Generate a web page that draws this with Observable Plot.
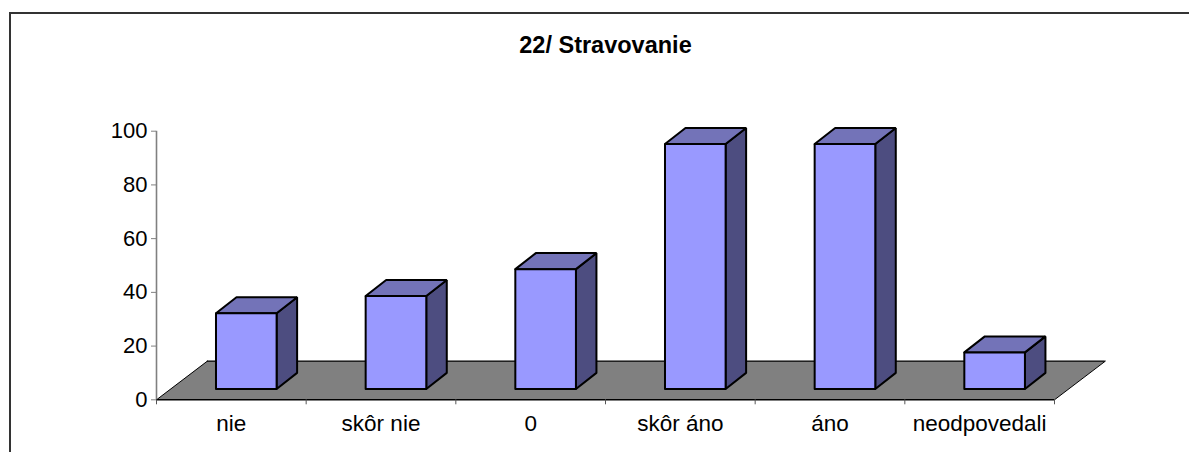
<!DOCTYPE html>
<html>
<head>
<meta charset="utf-8">
<script src="https://cdn.jsdelivr.net/npm/d3@7"></script>
<script src="https://cdn.jsdelivr.net/npm/@observablehq/plot@0.6"></script>
<style>
html,body{margin:0;padding:0;background:#fff;}
#wrap{position:relative;width:1189px;height:452px;overflow:hidden;font-family:"Liberation Sans",Arial,sans-serif;}
#frame{position:absolute;left:9px;top:12px;width:1300px;height:600px;border:2px solid #333;box-sizing:border-box;}
#title{position:absolute;left:0;width:1211px;top:32px;text-align:center;font-weight:bold;font-size:23.5px;line-height:26px;color:#000;}
#chart{position:absolute;left:0;top:0;}
</style>
</head>
<body>
<div id="wrap"><div id="frame"></div><div id="chart"></div><div id="title">22/ Stravovanie</div></div>
<script>
const categories = ["nie","skôr nie","0","skôr áno","áno","neodpovedali"];
const values = [28.2,34.6,44.6,91.2,91.2,13.6];
const yTicks = [0,20,40,60,80,100];

// 3-D projection, in scale units
const floorDepthX = 0.34, floorDepthY = 14.4;
const barDepthX = 0.137, barDepthY = 5.96;
const barBaseY = 4.05, barCenter = 0.6, barWidth = 0.405;

const n = categories.length;
const poly = (id, kind, pts) => pts.map(([x,y]) => ({id, kind, x, y}));

const floor = poly("floor","floor",[[0,0],[n,0],[n+floorDepthX,floorDepthY],[floorDepthX,floorDepthY],[0,0]]);
const faces = values.flatMap((v,i) => {
  const l = i + barCenter - barWidth/2, r = l + barWidth;
  const b = barBaseY, t = b + v, dx = barDepthX, dy = barDepthY;
  return [
    ...poly(`s${i}`,"side",[[r,b],[r+dx,b+dy],[r+dx,t+dy],[r,t],[r,b]]),
    ...poly(`t${i}`,"top",[[l,t],[r,t],[r+dx,t+dy],[l+dx,t+dy],[l,t]]),
    ...poly(`f${i}`,"front",[[l,b],[r,b],[r,t],[l,t],[l,b]])
  ];
});

const plot = Plot.plot({
  width: 1189, height: 452,
  marginLeft: 156, marginRight: 135, marginTop: 130.7, marginBottom: 52.7,
  style: {fontFamily: '"Liberation Sans",Arial,sans-serif', background: "transparent", color:"#000"},
  x: {type:"linear", domain:[0,n]},
  y: {domain:[0,100]},
  color: {type:"ordinal", domain:["floor","side","top","front"], range:["#808080","#4d4d80","#7373b8","#9999ff"]},
  marks: [
    Plot.line(floor, {x:"x", y:"y", z:"id", fill:"#808080", stroke:"none", curve:"linear-closed"}),
    // back and front edges of the floor
    Plot.ruleY([floorDepthY], {x1:floorDepthX, x2:n+floorDepthX, stroke:"#000", strokeWidth:1.4}),
    Plot.line(floor.slice(3,5), {x:"x", y:"y", stroke:"#000", strokeWidth:1}),
    Plot.line(floor.slice(1,3), {x:"x", y:"y", stroke:"#000", strokeWidth:1}),
    Plot.line(faces, {x:"x", y:"y", z:"id", fill:"kind", stroke:"#000", strokeWidth:2, strokeLinejoin:"miter"}),
    Plot.ruleY([0], {stroke:"#000", strokeWidth:1.4}),
    Plot.ruleX([0], {stroke:"#808080", strokeWidth:1.6}),
    Plot.axisY({ticks:yTicks, tickSize:5, tickPadding:4, stroke:"#808080", fontSize:22, label:null, tickFormat:d=>d}),
    Plot.axisX({ticks:d3.range(n+1), tickSize:5, stroke:"#555", tickFormat:()=>"" , label:null}),
    Plot.axisX({ticks:categories.map((c,i)=>i+0.5), tickSize:0, tickPadding:15, fontSize:22.5, label:null,
      tickFormat:d=>categories[d-0.5]})
  ]
});
document.getElementById("chart").appendChild(plot);
</script>
</body>
</html>
